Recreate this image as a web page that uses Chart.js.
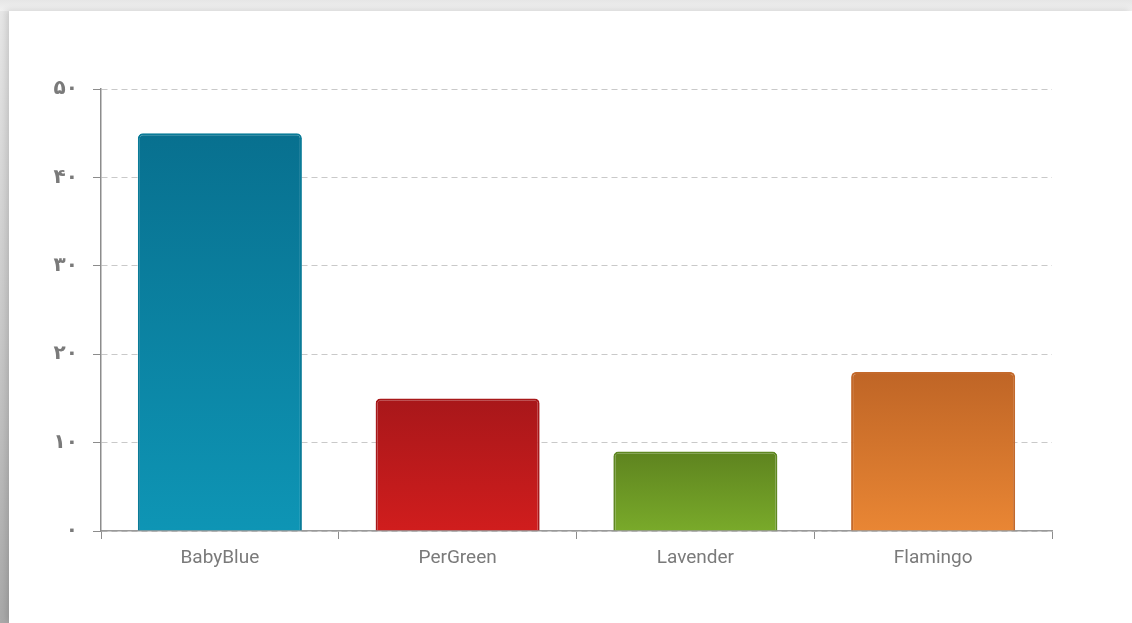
<!DOCTYPE html>
<html>
<head>
<meta charset="utf-8">
<script src="https://cdn.jsdelivr.net/npm/chart.js@4/dist/chart.umd.min.js"></script>
<style>
  html, body { margin: 0; padding: 0; width: 1132px; height: 623px; overflow: hidden; }
  body { background: linear-gradient(180deg, #e8e8e8 0%, #c8c8c8 55%, #a9a9a9 100%); position: relative; }
  .topband { position: absolute; left: 0; top: 0; width: 1132px; height: 11px;
    background: linear-gradient(180deg, #e6e6e6 0%, #f1f1f1 100%); }
  .card { position: absolute; left: 9px; top: 11px; width: 1123px; height: 612px; background: #fff;
    box-shadow: -3px -1px 6px rgba(0,0,0,0.12); }
  .wrap { position: absolute; left: 0; top: 0; width: 1132px; height: 623px; }
</style>
</head>
<body>
<div class="topband"></div>
<div class="card"></div>
<div class="wrap"><canvas id="c" width="1132" height="623"></canvas></div>
<script>
// Categories and values
const categories = ['BabyBlue', 'PerGreen', 'Lavender', 'Flamingo'];
const values = [45, 15, 9, 18];
const yTicks = [0, 10, 20, 30, 40, 50];

// Bar colours: gradient top, gradient bottom, border
const gradTop = ['#08708f', '#a8171a', '#5e831f', '#bf6526'];
const gradBottom = ['#0e95b5', '#d01d1d', '#79aa2a', '#e98634'];
const borderColors = ['#0a7b98', '#a8181a', '#5f8822', '#c3692b'];

const persianDigits = ['۰','۱','۲','۳','۴','۵','۶','۷','۸','۹'];
function toPersian(n) {
  return String(n).replace(/\d/g, d => persianDigits[+d]);
}

function barGradient(ctx) {
  const chart = ctx.chart;
  const area = chart.chartArea;
  const i = ctx.dataIndex;
  if (!area || ctx.type !== 'data') return gradBottom[i];
  const yScale = chart.scales.y;
  const top = yScale.getPixelForValue(values[i]);
  const bottom = yScale.getPixelForValue(0);
  const g = chart.ctx.createLinearGradient(0, top, 0, bottom);
  g.addColorStop(0, gradTop[i]);
  g.addColorStop(1, gradBottom[i]);
  return g;
}

new Chart(document.getElementById('c'), {
  type: 'bar',
  data: {
    labels: categories,
    datasets: [{
      data: values,
      backgroundColor: barGradient,
      borderColor: borderColors,
      borderWidth: 2,
      borderSkipped: 'bottom',
      borderRadius: { topLeft: 5, topRight: 5, bottomLeft: 0, bottomRight: 0 },
      categoryPercentage: 1.0,
      barPercentage: 0.69
    }]
  },
  options: {
    responsive: false,
    animation: false,
    devicePixelRatio: 1,
    layout: { padding: { left: 0, right: 80, top: 89, bottom: 0 } },
    plugins: { legend: { display: false }, tooltip: { enabled: false } },
    scales: {
      x: {
        offset: true,
        grid: { display: true, drawOnChartArea: false, drawTicks: true, tickLength: 8, tickColor: '#8c8c8c', offset: true },
        border: { display: true, color: '#9a9a9a', width: 1.5 },
        ticks: { color: '#7a7a7a', padding: 8, font: { family: 'Roboto', size: 19 } },
        afterFit: s => { s.height = 92; }
      },
      y: {
        min: 0, max: 50,
        afterBuildTicks: s => { s.ticks = yTicks.map(v => ({ value: v })); },
        grid: { color: '#c9c9c9', lineWidth: 1, tickLength: 8, tickColor: '#8c8c8c', drawTicks: true },
        border: { display: true, color: '#8c8c8c', width: 1.5, dash: [6, 4] },
        ticks: {
          color: '#7a7a7a', padding: 15,
          font: { family: '"DejaVu Sans"', size: 20, weight: 'bold' },
          callback: v => toPersian(v)
        },
        afterFit: s => { s.width = 101; }
      }
    }
  }
});
</script>
</body>
</html>
